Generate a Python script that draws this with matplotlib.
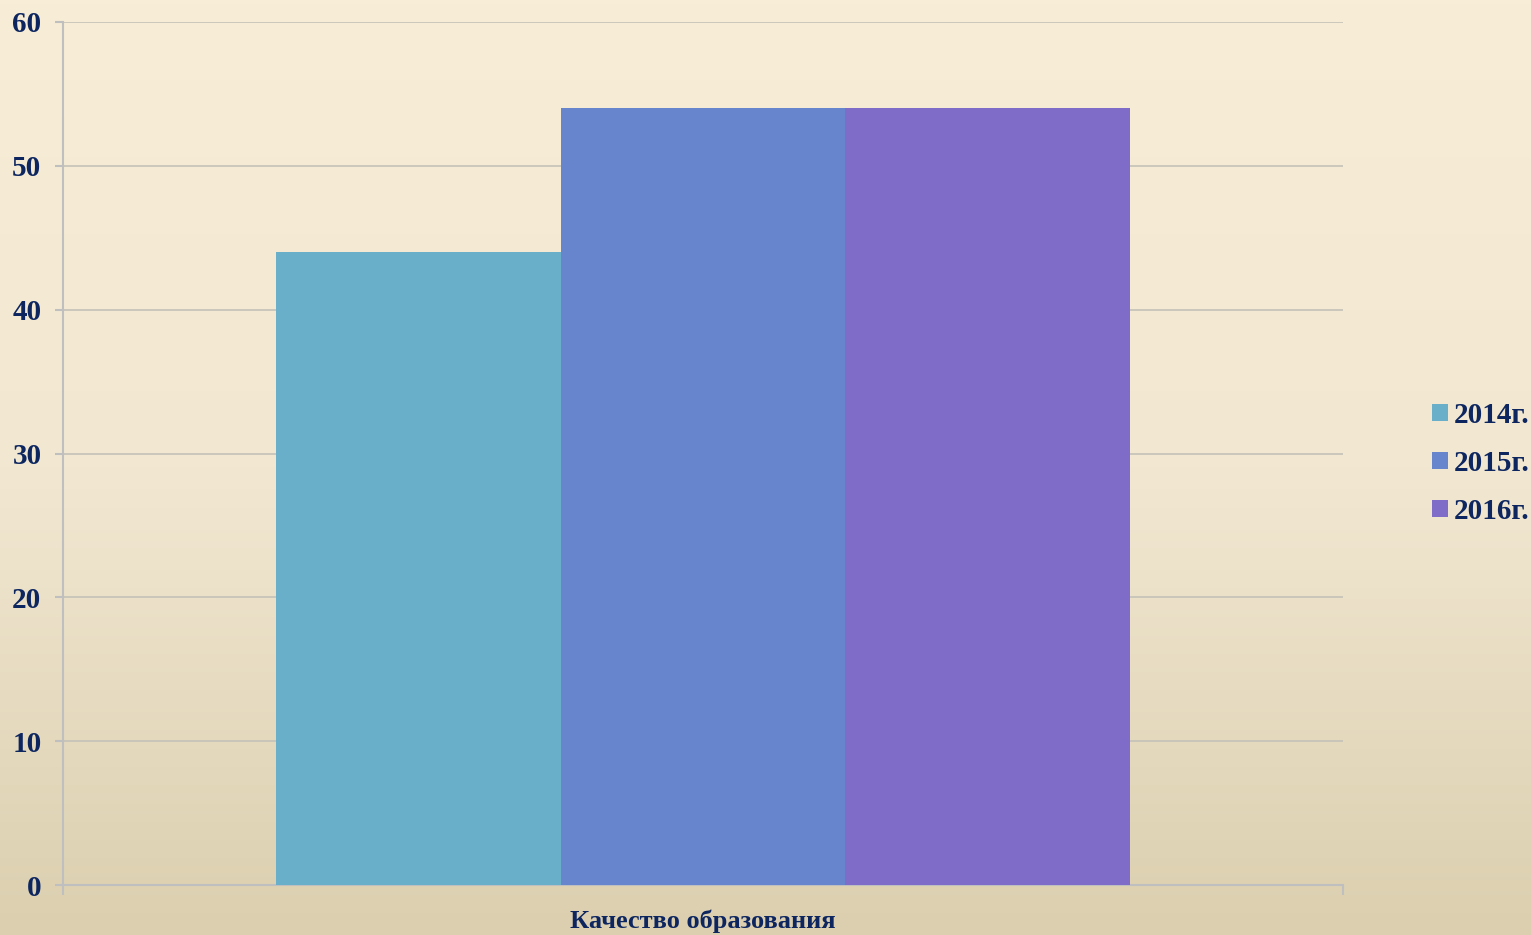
import matplotlib.pyplot as plt
import numpy as np
from matplotlib.colors import LinearSegmentedColormap

categories = ["Качество образования"]
series = ["2014г.", "2015г.", "2016г."]
values = [44, 54, 54]
colors = ["#6aafc9", "#6685cc", "#7f6bc8"]
yticks = [0, 10, 20, 30, 40, 50, 60]

text_color = "#0d2660"
plt.rcParams['font.family'] = ['Liberation Serif', 'DejaVu Serif']
plt.rcParams['font.weight'] = 'bold'

fig = plt.figure(figsize=(15.31, 9.35), dpi=100)

# background gradient
bg = fig.add_axes([0, 0, 1, 1], zorder=-10)
cmap = LinearSegmentedColormap.from_list("bg", ["#f8edd6", "#f2e8d2", "#dbcfaf"])
grad = np.linspace(0, 1, 256).reshape(-1, 1)
bg.imshow(grad, aspect='auto', cmap=cmap, extent=[0, 1, 0, 1], origin='upper')
bg.axis('off')

ax = fig.add_axes([63 / 1531, 1 - 885 / 935, 1280 / 1531, 863 / 935])
ax.set_facecolor('none')

width = 2 / 9
x = np.arange(len(categories))
for i, (name, val, col) in enumerate(zip(series, values, colors)):
    ax.bar(x + (i - 1) * width, [val], width, color=col, label=name, zorder=3)

ax.set_xlim(-0.5, 0.5)
ax.set_ylim(0, 60)
ax.set_yticks(yticks)
ax.set_yticklabels([str(t) for t in yticks], fontsize=21, color=text_color, fontweight='bold')
ax.set_xticks([-0.5, 0.5])
ax.set_xticklabels(['', ''])
ax.tick_params(axis='x', length=7, color='#bfbfbf', width=1.5, direction='out')
ax.tick_params(axis='y', length=6, color='#bfbfbf', width=1.5, direction='out', pad=9.5)
ax.text(0, -0.028, categories[0], transform=ax.get_xaxis_transform(), ha='center', va='top',
        fontsize=19, color=text_color, fontweight='bold')

ax.grid(axis='y', color='#c4c1b8', linewidth=1.2, zorder=0)
for s in ['top', 'right']:
    ax.spines[s].set_visible(False)
for s in ['left', 'bottom']:
    ax.spines[s].set_color('#bfbfbf')
    ax.spines[s].set_linewidth(1.5)

leg = ax.legend(loc='center left', bbox_to_anchor=(1.0604, 0.4885), frameon=False,
                fontsize=21, handlelength=0.55, handleheight=0.55, handletextpad=0.2,
                labelspacing=0.72, borderaxespad=0.0)
for t in leg.get_texts():
    t.set_color(text_color)
    t.set_fontweight('bold')

fig.savefig('out.png', dpi=100)
